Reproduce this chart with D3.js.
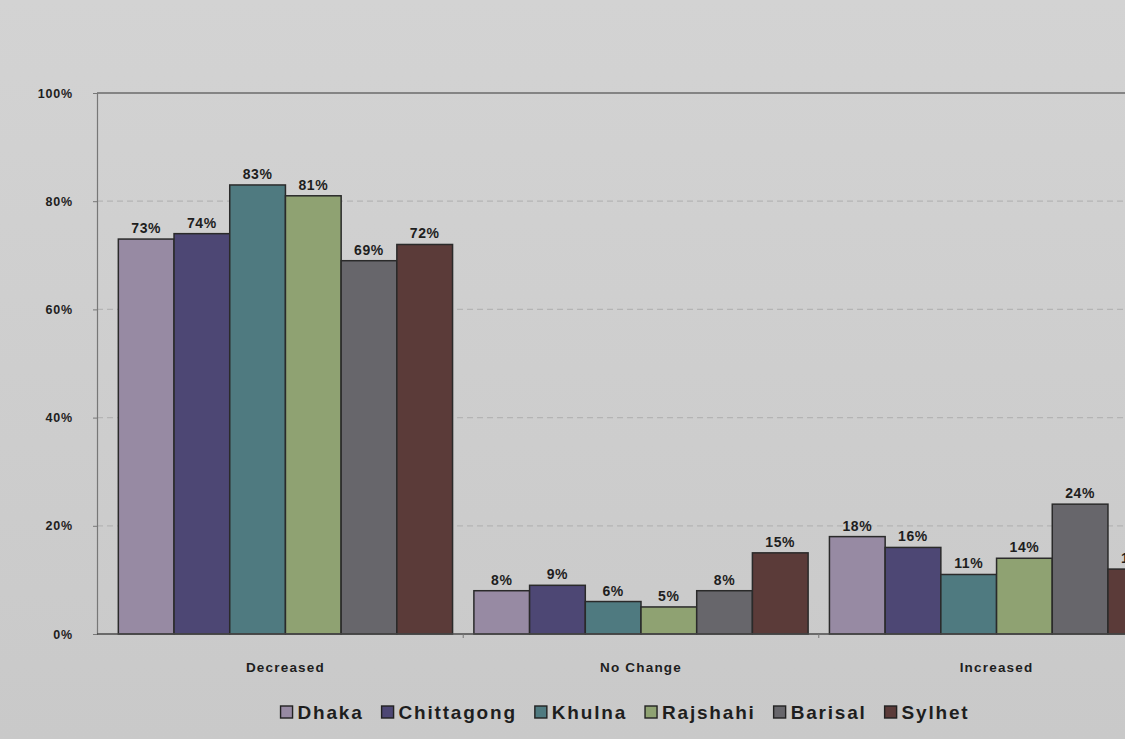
<!DOCTYPE html>
<html>
<head>
<meta charset="utf-8">
<script src="https://cdn.jsdelivr.net/npm/d3@7"></script>
<style>
  html, body { margin: 0; padding: 0; background: #cfcfcf; }
  svg { display: block; }
  text { font-family: "Liberation Sans", Arial, sans-serif; font-weight: bold; fill: #1e1e1e; }
</style>
</head>
<body>
<svg id="chart" width="1125" height="739"></svg>
<script>
const categories = ["Decreased", "No Change", "Increased"];
const regions = ["Dhaka", "Chittagong", "Khulna", "Rajshahi", "Barisal", "Sylhet"];
const dhaka      = [73, 8, 18];
const chittagong = [74, 9, 16];
const khulna     = [83, 6, 11];
const rajshahi   = [81, 5, 14];
const barisal    = [69, 8, 24];
const sylhet     = [72, 15, 12];
const seriesValues = [dhaka, chittagong, khulna, rajshahi, barisal, sylhet];
const yTicks = [0, 20, 40, 60, 80, 100];
const colors = ["#978aa3", "#4d4774", "#4f7a80", "#8fa272", "#67666b", "#5b3b39"];

const svg = d3.select("#chart");
const W = 1125, H = 739;

const grad = svg.append("defs").append("linearGradient").attr("id", "paper").attr("x1", 0).attr("y1", 0).attr("x2", 0).attr("y2", 1);
grad.append("stop").attr("offset", "0%").attr("stop-color", "#d3d3d3");
grad.append("stop").attr("offset", "100%").attr("stop-color", "#c9c9c9");
svg.append("rect").attr("width", W).attr("height", H).attr("fill", "url(#paper)");

const x0 = d3.scaleBand().domain(categories).range([97, 1185]).paddingInner(0.06).paddingOuter(0.06);
const x1 = d3.scaleBand().domain(regions).range([0, x0.bandwidth()]).padding(0);
const y = d3.scaleLinear().domain([0, 100]).range([634, 93]);

// gridlines
svg.append("g").selectAll("line").data(yTicks.filter(t => t > 0 && t < 100)).join("line")
  .attr("x1", 97).attr("x2", W + 100)
  .attr("y1", d => y(d)).attr("y2", d => y(d))
  .attr("stroke", "#b4b4b4").attr("stroke-width", 1.2).attr("stroke-dasharray", "6,4");
// top border
svg.append("line").attr("x1", 97).attr("x2", W + 100).attr("y1", y(100)).attr("y2", y(100))
  .attr("stroke", "#6a6a6a").attr("stroke-width", 1.6);

// y axis
const yAxis = d3.axisLeft(y).tickValues(yTicks).tickSize(4).tickFormat(d => d + "%");
const ya = svg.append("g").attr("transform", "translate(97,0)").call(yAxis);
ya.select(".domain").attr("stroke", "#777").attr("stroke-width", 1.2);
ya.selectAll(".tick line").attr("stroke", "#777");
ya.selectAll(".tick text").attr("x", -24).attr("font-size", 12.5).attr("fill", "#1e1e1e")
  .style("letter-spacing", "0.8px")
  .style("font-family", "'Liberation Sans', Arial, sans-serif").style("font-weight", "bold");

// bars
const groups = svg.append("g").selectAll("g").data(categories).join("g")
  .attr("transform", d => `translate(${x0(d)},0)`);

groups.each(function(cat, ci) {
  const g = d3.select(this);
  const data = regions.map((r, ri) => ({ region: r, value: seriesValues[ri][ci], color: colors[ri] }));
  g.selectAll("rect").data(data).join("rect")
    .attr("x", d => x1(d.region)).attr("width", x1.bandwidth())
    .attr("y", d => y(d.value)).attr("height", d => y(0) - y(d.value))
    .attr("fill", d => d.color).attr("stroke", "#2a2a2a").attr("stroke-width", 1.5);
  g.selectAll("text.lbl").data(data).join("text").attr("class", "lbl")
    .attr("x", d => x1(d.region) + x1.bandwidth() / 2).attr("y", d => y(d.value) - 6)
    .attr("text-anchor", "middle").attr("font-size", 14).style("letter-spacing", "0.6px")
    .text(d => d.value + "%");
});

// baseline
svg.append("line").attr("x1", 97).attr("x2", W + 100).attr("y1", y(0)).attr("y2", y(0))
  .attr("stroke", "#4a4a4a").attr("stroke-width", 1.6);
// category tick marks
svg.append("g").selectAll("line").data(categories.slice(1)).join("line")
  .attr("x1", d => x0(d) - x0.step() * x0.paddingInner() / 2).attr("x2", d => x0(d) - x0.step() * x0.paddingInner() / 2)
  .attr("y1", y(0)).attr("y2", y(0) + 4).attr("stroke", "#777");

// category labels
svg.append("g").selectAll("text").data(categories).join("text")
  .attr("x", d => x0(d) + x0.bandwidth() / 2).attr("y", 672)
  .attr("text-anchor", "middle").attr("font-size", 13.5).style("letter-spacing", "1.2px").text(d => d);

// legend
const legend = svg.append("g").attr("transform", "translate(0,719)");
const items = legend.selectAll("g").data(regions).join("g");
items.append("rect").attr("width", 12).attr("height", 12).attr("y", -13)
  .attr("fill", (d, i) => colors[i]).attr("stroke", "#222").attr("stroke-width", 1.4);
items.append("text").attr("x", 17).attr("y", 0).attr("font-size", 19).style("letter-spacing", "1.8px").text(d => d);
let cx = 0;
const widths = [];
items.each(function() { widths.push(this.getBBox().width); });
const gap = 18;
const total = d3.sum(widths) + gap * (widths.length - 1);
cx = 625 - total / 2;
items.attr("transform", (d, i) => { const t = `translate(${cx},0)`; cx += widths[i] + gap; return t; });
</script>
</body>
</html>
